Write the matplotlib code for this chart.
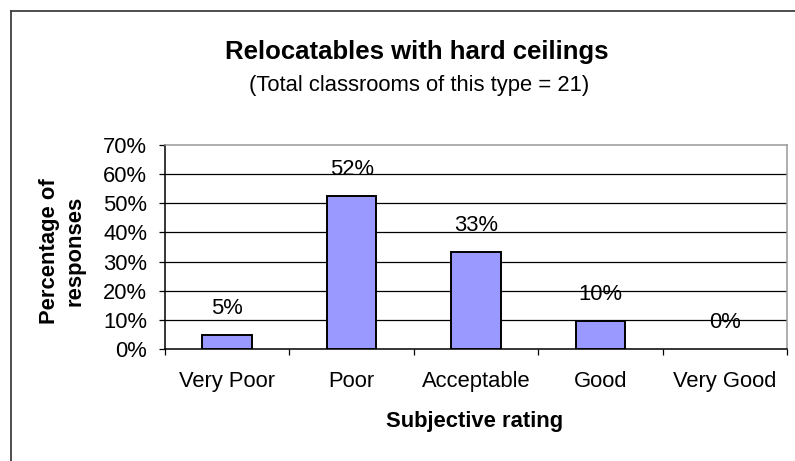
import numpy as np
import matplotlib
matplotlib.use('Agg')
import matplotlib.pyplot as plt
from matplotlib.lines import Line2D

plt.rcParams['font.family'] = ['Liberation Sans', 'DejaVu Sans']

# ---- data ----
categories = ['Very Poor', 'Poor', 'Acceptable', 'Good', 'Very Good']
percentages = [4.76, 52.38, 33.33, 9.52, 0.0]
labels = ['5%', '52%', '33%', '10%', '0%']
y_ticks = [0, 10, 20, 30, 40, 50, 60, 70]

# ---- figure ----
fig = plt.figure(figsize=(7.95, 4.61), dpi=100)
ax = fig.add_axes([165/795, 112/461, 622/795, 204/461])

x = np.arange(len(categories))
bars = ax.bar(x, percentages, width=0.40, color='#9999FF', edgecolor='black', linewidth=1.4, zorder=3)
for b, val in zip(bars, percentages):
    if val == 0:
        b.set_linewidth(0)  # empty category shows no bar

for xi, val, lab in zip(x, percentages, labels):
    ax.annotate(lab, (xi, val), xytext=(0, 19), textcoords='offset points',
                ha='center', va='center', fontsize=15.8)

ax.set_xlim(-0.5, len(categories) - 0.5)
ax.set_ylim(0, 70)
ax.set_yticks(y_ticks)
ax.set_yticklabels([f'{t}%' for t in y_ticks], fontsize=15.8)
for t in y_ticks[1:-1]:
    ax.axhline(t, color='black', linewidth=0.9, zorder=1)

# category boundaries as ticks, names in between
ax.set_xticks(np.arange(len(categories) + 1) - 0.5)
ax.set_xticklabels([])
ax.set_xticks(x, minor=True)
ax.set_xticklabels(categories, minor=True, fontsize=15.8)
ax.tick_params(axis='x', which='minor', length=0, pad=16)
ax.tick_params(axis='x', which='major', length=4.3, width=0.9, direction='out')
ax.tick_params(axis='y', length=4.3, width=0.9, direction='out', pad=8.6)

ax.spines['left'].set_color('black')
ax.spines['bottom'].set_color('black')
ax.spines['top'].set_color('#999999')
ax.spines['right'].set_color('#999999')
for s in ax.spines.values():
    s.set_linewidth(1.1)

fig.text(475/795, 1 - 422/461, 'Subjective rating', ha='center', va='center',
         fontsize=15.8, fontweight='bold')
fig.text(62/795, 1 - 251/461, 'Percentage of\nresponses', rotation=90, ha='center', va='center',
         fontsize=15.8, fontweight='bold', linespacing=1.3)

fig.text(417/795, 1 - 52/461, 'Relocatables with hard ceilings', ha='center', va='center',
         fontsize=18.5, fontweight='bold')
fig.text(419/795, 1 - 86/461, '(Total classrooms of this type = 21)', ha='center', va='center',
         fontsize=15.8)

# outer chart border (cropped on the right and bottom)
fig.add_artist(Line2D([11/795, 11/795], [0, 1 - 11/461], transform=fig.transFigure, color='#404040', linewidth=1.3))
fig.add_artist(Line2D([11/795, 1], [1 - 11/461, 1 - 11/461], transform=fig.transFigure, color='#404040', linewidth=1.3))

fig.savefig('out.png', dpi=100)
